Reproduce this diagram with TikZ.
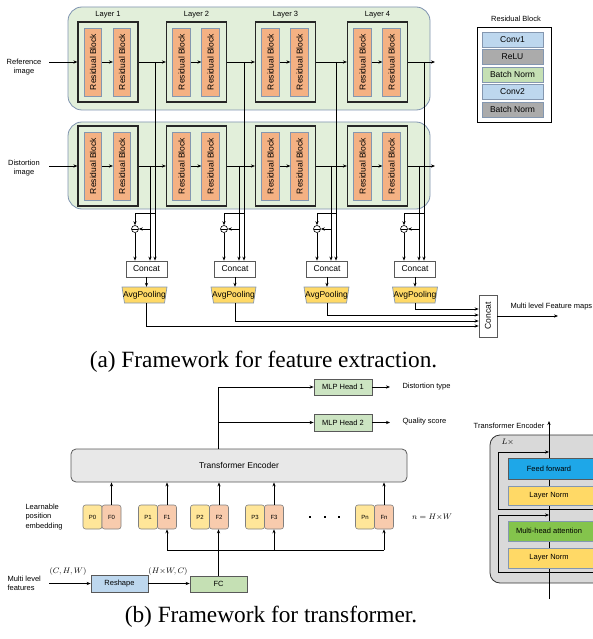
\documentclass[tikz,border=0pt]{standalone}
\usepackage{fontspec}
\setmainfont{Liberation Sans}
\newfontfamily\capfont{Liberation Serif}
\usetikzlibrary{arrows.meta,calc}
\definecolor{panelfill}{HTML}{E2EFDA}
\definecolor{paneldraw}{HTML}{7F93B0}
\definecolor{rbfill}{HTML}{F4B183}
\definecolor{rbdraw}{HTML}{8497B0}
\definecolor{convfill}{HTML}{BDD7EE}
\definecolor{grayfill}{HTML}{ABABAB}
\definecolor{bnfill}{HTML}{C5E0B4}
\definecolor{avgfill}{HTML}{FFD966}
\definecolor{encfill}{HTML}{E8E8E8}
\definecolor{mlpfill}{HTML}{CCE4C2}
\definecolor{pfill}{HTML}{FFE699}
\definecolor{ffill}{HTML}{F8CBAD}
\definecolor{outerfill}{HTML}{D9D9D9}
\definecolor{fffill}{HTML}{1EA7E8}
\definecolor{mhafill}{HTML}{84C44C}
\definecolor{darkline}{HTML}{595959}
\begin{document}
\begin{tikzpicture}[x=1pt,y=-1pt,>={Stealth[length=4pt,width=3.2pt]},
  f85/.style={font=\fontsize{8.5}{10}\selectfont},
  f75/.style={font=\fontsize{7.5}{9.5}\selectfont},
  f6/.style={font=\fontsize{6}{7}\selectfont},
  arr/.style={->,line width=0.7pt},
  ln/.style={line width=0.7pt},
  panel/.style={draw=paneldraw,fill=panelfill,rounded corners=14pt,line width=0.8pt,inner sep=0pt},
  layerbox/.style={draw=black!85,line width=1.2pt,minimum width=60pt,minimum height=80pt,inner sep=0pt},
  rb/.style={draw=rbdraw,fill=rbfill,line width=0.7pt,minimum width=17.5pt,minimum height=68pt,inner sep=0pt,f85},
  legrow/.style={draw=rbdraw,line width=0.9pt,minimum width=61pt,minimum height=15pt,inner sep=0pt,f85},
  concatbox/.style={draw=darkline,fill=white,line width=0.7pt,minimum width=41pt,minimum height=16pt,inner sep=0pt,f85},
  avgtxt/.style={minimum width=45pt,minimum height=16pt,inner sep=0pt,f85},
  avgshape/.style={draw=rbdraw,fill=avgfill,line width=0.7pt},
  minuscirc/.style={circle,draw=black,fill=white,line width=0.6pt,minimum size=7pt,inner sep=0pt,
     path picture={\draw[line width=0.5pt] (path picture bounding box.west) -- (path picture bounding box.east);}},
  gbox/.style={draw=darkline,line width=0.7pt,inner sep=0pt,f75},
  tok/.style={draw=gray,line width=0.6pt,rounded corners=2.5pt,minimum width=19pt,minimum height=24pt,inner sep=0pt,f6},
  encbox/.style={draw=gray!70!black,line width=0.8pt,inner sep=0pt,minimum width=92pt,f75}]
\useasboundingbox (0,0) rectangle (592,639);

% ---------------- Part (a) ----------------
\node[panel,minimum width=362pt,minimum height=103pt] (PA) at (249,58.5) {};
\node[panel,minimum width=362pt,minimum height=87pt] (PB) at (249,165.5) {};

\foreach \i/\x in {1/108,2/196.5,3/285.5,4/377.5}{
  \node[f75] (lay\i) at (\x,15) {Layer \i};
  \node[layerbox] (LA\i) at (\x,62) {};
  \node[rb] (RAa\i) at (\x-15,62) {\rotatebox{90}{Residual Block}};
  \node[rb] (RAb\i) at (\x+14,62) {\rotatebox{90}{Residual Block}};
  \draw[arr] (RAa\i.east) -- (RAb\i.west);
  \node[layerbox] (LB\i) at (\x,166) {};
  \node[rb] (RBa\i) at (\x-15,166) {\rotatebox{90}{Residual Block}};
  \node[rb] (RBb\i) at (\x+14,166) {\rotatebox{90}{Residual Block}};
  \draw[arr] (RBa\i.east) -- (RBb\i.west);
}

\node[f75,align=center] (refimg) at (24,67) {Reference\\image};
\node[f75,align=center] (disimg) at (24,168) {Distortion\\image};
\coordinate (inA) at (49,62);
\coordinate (inB) at (49,166);
\coordinate (outA) at (435,62);
\coordinate (outB) at (435,166);
\draw[arr] (inA) -- (LA1.west);
\draw[arr] (inB) -- (LB1.west);
\draw[arr] (LA1.east) -- (LA2.west);
\draw[arr] (LA2.east) -- (LA3.west);
\draw[arr] (LA3.east) -- (LA4.west);
\draw[arr] (LA4.east) -- (outA);
\draw[arr] (LB1.east) -- (LB2.west);
\draw[arr] (LB2.east) -- (LB3.west);
\draw[arr] (LB3.east) -- (LB4.west);
\draw[arr] (LB4.east) -- (outB);

% Residual block legend
\node[f75] (legt) at (516,19) {Residual Block};
\node[draw=black,line width=0.9pt,minimum width=74pt,minimum height=95pt,inner sep=0pt] (leg) at (514,74.5) {};
\node[legrow,fill=convfill] (lg1) at (512.5,39.5) {Conv1};
\node[legrow,fill=grayfill] (lg2) at (512.5,57) {ReLU};
\node[legrow,fill=bnfill] (lg3) at (512.5,74.5) {Batch Norm};
\node[legrow,fill=convfill] (lg4) at (512.5,92) {Conv2};
\node[legrow,fill=grayfill] (lg5) at (512.5,109.5) {Batch Norm};

% taps, subtraction, concat, pooling
\foreach \i/\tx/\dx/\cx/\ccx/\ax in {1/155/150/135/146.5/144.5,2/244/239/224/235/233.5,3/336/331/317/327/326.5,4/424/419/404/415/415}{
  \coordinate (tA\i) at (\tx,62);
  \coordinate (tB\i) at (\dx,166);
  \coordinate (br\i) at (\tx,213);
  \node[minuscirc] (m\i) at (\cx,229) {};
  \node[concatbox] (C\i) at (\ccx,269) {Concat};
  \draw[avgshape] (\ax-22.5,287) -- (\ax+22.5,287) -- (\ax+20,303) -- (\ax-20,303) -- cycle;
  \node[avgtxt] (A\i) at (\ax,295) {AvgPooling};
  \draw[arr] (tA\i) -- (tA\i |- C\i.north);
  \draw[arr] (tB\i) -- (tB\i |- C\i.north);
  \draw[arr] (br\i) -| (m\i.north);
  \draw[arr] (tB\i |- m\i.east) -- (m\i.east);
  \draw[arr] (m\i.south) -- (m\i.south |- C\i.north);
  \draw[arr] (C\i.south) -- (C\i.south |- A\i.north);
}
\node[draw=darkline,fill=white,line width=0.7pt,minimum width=18pt,minimum height=42pt,inner sep=0pt,f85] (FCat) at (488,316) {\rotatebox{90}{Concat}};
\draw[arr] (C1.south |- A1.south) |- ($(FCat.west)+(0,10)$);
\draw[arr] (C2.south |- A2.south) |- ($(FCat.west)+(0,5)$);
\draw[arr] (C3.south |- A3.south) |- ($(FCat.west)+(0,-1)$);
\draw[arr] (C4.south |- A4.south) |- ($(FCat.west)+(0,-7)$);
\coordinate (fmap) at (558,316);
\draw[arr] (FCat.east) -- (fmap);
\node[f75,anchor=west] (fmlab) at (507,307) {Multi level Feature maps};

\node[font=\capfont\fontsize{23.3}{28}\selectfont] (capa) at (263.5,362) {(a) Framework for feature extraction.};

% ---------------- Part (b) ----------------
\node[draw=darkline,fill=encfill,line width=0.8pt,rounded corners=5pt,minimum width=336pt,minimum height=33pt,inner sep=0pt,f85] (TE) at (239,465.5) {Transformer Encoder};
\node[gbox,fill=mlpfill,minimum width=58pt,minimum height=16pt] (MLP1) at (343,387) {MLP Head 1};
\node[gbox,fill=mlpfill,minimum width=58pt,minimum height=17pt] (MLP2) at (343,422.5) {MLP Head 2};
\coordinate (j0) at (218,449);
\draw[arr] (j0) |- (MLP1.west);
\draw[arr] (j0 |- MLP2.west) -- (MLP2.west);
\coordinate (o1) at (390,387);
\coordinate (o2) at (390,422.5);
\draw[arr] (MLP1.east) -- (o1);
\draw[arr] (MLP2.east) -- (o2);
\node[f75,anchor=west] (dtype) at (399,386.5) {Distortion type};
\node[f75,anchor=west] (qscore) at (399,421.5) {Quality score};

\foreach \n/\fx in {0/111.5,1/167,2/219,3/274,n/384}{
  \node[tok,fill=pfill] (P\n) at (\fx-19,517) {P\n};
  \node[tok,fill=ffill] (F\n) at (\fx,517) {F\n};
  \draw[arr] (F\n.north) -- (F\n.north |- TE.south);
}
\foreach \x in {310,325,339}{\fill (\x-1.3,515.7) rectangle (\x+1.3,518.3);}
\node[f85] (neq) at (432,517) {$n = H{\times}W$};
\node[f75,anchor=west,align=left] (lpe) at (22,517) {Learnable\\position\\embedding};

\node[gbox,fill=convfill,minimum width=57pt,minimum height=17pt] (RS) at (119.5,583.5) {Reshape};
\node[gbox,fill=bnfill,minimum width=57pt,minimum height=16pt] (FC) at (218.5,584) {FC};
\coordinate (busL) at (167,550);
\coordinate (busR) at (384,550);
\draw[ln] (busL) -- (busR);
\draw[arr] (F1.south |- busL) -- (F1.south);
\draw[arr] (F3.south |- busL) -- (F3.south);
\draw[arr] (Fn.south |- busL) -- (Fn.south);
\draw[arr] (FC.north) -- (FC.north |- F2.south);
\coordinate (inF) at (49,583.5);
\draw[arr] (inF) -- (RS.west);
\draw[arr] (RS.east) -- (FC.west |- RS.east);
\node[f85] (chw) at (68,571) {$(C,H,W)$};
\node[f85] (hwc) at (168,571) {$(H{\times}W,C)$};
\node[f75,anchor=west,align=left] (mlf) at (4,583.5) {Multi level\\features};

% encoder detail (runs off the right edge, as in the reference)
\node[f75] (tetitle) at (509,426) {Transformer Encoder};
\node[draw=black!80,fill=outerfill,line width=0.8pt,rounded corners=10pt,minimum width=125pt,minimum height=148pt,inner sep=0pt] (OB) at (552.5,509) {};
\node[font=\fontsize{8}{9}\selectfont,anchor=west] (lx) at (498,442) {$L\times$};
\coordinate (vin) at (549,599);
\coordinate (vout) at (549,421);
\draw[arr] (vin) -- (vout);
\node[encbox,fill=fffill,minimum height=21pt] (FF) at (554,468.5) {\hspace*{-10pt}Feed forward};
\node[encbox,draw=rbdraw,fill=avgfill,minimum height=19pt] (LN1) at (554,495.5) {\hspace*{-10pt}Layer Norm};
\node[encbox,draw=rbdraw,fill=mhafill,minimum height=20pt] (MHA) at (554,531) {\hspace*{-10pt}Multi-head attention};
\node[encbox,draw=rbdraw,fill=avgfill,minimum height=20pt] (LN2) at (554,558) {\hspace*{-10pt}Layer Norm};
\coordinate (sa0) at (549,509);
\coordinate (sa1) at (498,509);
\coordinate (sa2) at (498,452);
\coordinate (sa3) at (549,452);
\coordinate (sae) at (600,509);
\draw[ln] (sa1) -- (sae);
\draw[arr] (sa0) -- (sa1) -- (sa2) -- (sa3);
\coordinate (sb0) at (549,572);
\coordinate (sb1) at (498,572);
\coordinate (sb2) at (498,515);
\coordinate (sb3) at (549,515);
\coordinate (sbe) at (600,572);
\draw[ln] (sb1) -- (sbe);
\draw[arr] (sb0) -- (sb1) -- (sb2) -- (sb3);

\node[font=\capfont\fontsize{23.3}{28}\selectfont] (capb) at (271,617) {(b) Framework for transformer.};
\end{tikzpicture}
\end{document}
